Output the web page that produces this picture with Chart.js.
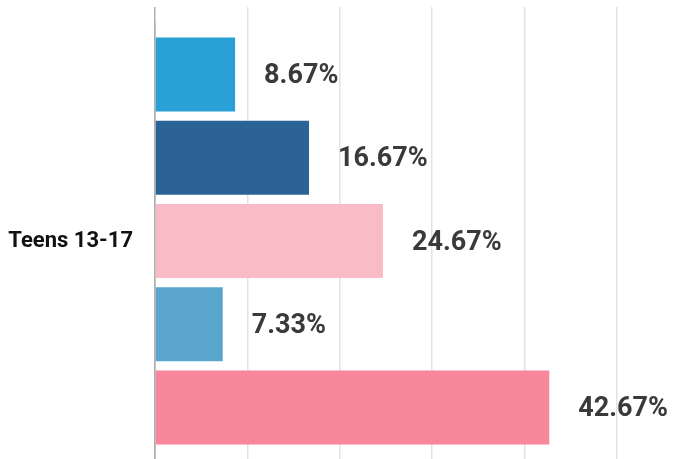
<!DOCTYPE html>
<html>
<head>
<meta charset="utf-8">
<script src="https://cdn.jsdelivr.net/npm/chart.js@4/dist/chart.umd.min.js"></script>
<style>
  html, body { margin: 0; padding: 0; background: #fff; overflow: hidden; }
  canvas { display: block; }
</style>
</head>
<body>
<canvas id="teensChart" width="674" height="459"></canvas>
<script>
const categories = ['Teens 13-17'];
const seriesNames = ['Series 1', 'Series 2', 'Series 3', 'Series 4', 'Series 5'];
const values = [8.67, 16.67, 24.67, 7.33, 42.67];
const barColours = ['#29a0d6', '#2c6396', '#f9bcc6', '#5aa5cd', '#f8869c'];
const xTicks = [0, 10, 20, 30, 40, 50];

// draw the % figure to the right of each bar
const valueLabels = {
    id: 'valueLabels',
    afterDatasetsDraw(chart) {
        const ctx = chart.ctx;
        ctx.save();
        ctx.font = 'bold 27px Roboto';
        ctx.fillStyle = '#3a3a3a';
        ctx.textBaseline = 'middle';
        ctx.textAlign = 'left';
        chart.data.datasets.forEach((ds, i) => {
            chart.getDatasetMeta(i).data.forEach((bar, j) => {
                ctx.fillText(ds.data[j].toFixed(2) + '%', bar.x + 29, bar.y + 2);
            });
        });
        ctx.restore();
    }
};

const datasets = values.map((v, i) => ({
    label: seriesNames[i],
    data: [v],
    backgroundColor: barColours[i],
    borderWidth: 0,
    barPercentage: 0.89,
    categoryPercentage: 0.955
}));

const config = {
    type: 'bar',
    data: {
        labels: categories,
        datasets: datasets
    },
    options: {
        indexAxis: 'y',
        responsive: false,
        animation: false,
        layout: {
            padding: { top: 7, left: 8, right: 57, bottom: 0 }
        },
        plugins: {
            legend: { display: false },
            tooltip: { enabled: false }
        },
        scales: {
            x: {
                position: 'top',
                min: xTicks[0],
                max: xTicks[xTicks.length - 1],
                afterBuildTicks: (scale) => {
                    scale.ticks = xTicks.map(v => ({ value: v }));
                },
                afterFit: (scale) => { scale.height = 16; },
                ticks: { display: false },
                grid: {
                    color: (c) => (c.tick && c.tick.value === 0) ? '#b0b0b0' : '#e2e2e2',
                    lineWidth: 1.5,
                    drawTicks: true,
                    tickLength: 16
                },
                border: { display: false }
            },
            y: {
                afterFit: (scale) => {
                    scale.width = 147;
                    scale.paddingTop = 0;
                    scale.paddingBottom = 0;
                },
                grid: { display: false, drawTicks: false },
                border: { display: true, color: '#b0b0b0', width: 1.5 },
                ticks: {
                    color: '#111',
                    padding: 22,
                    font: { family: 'Roboto', size: 22, weight: 'bold' }
                }
            }
        }
    },
    plugins: [valueLabels]
};

new Chart(document.getElementById('teensChart'), config);
</script>
</body>
</html>
